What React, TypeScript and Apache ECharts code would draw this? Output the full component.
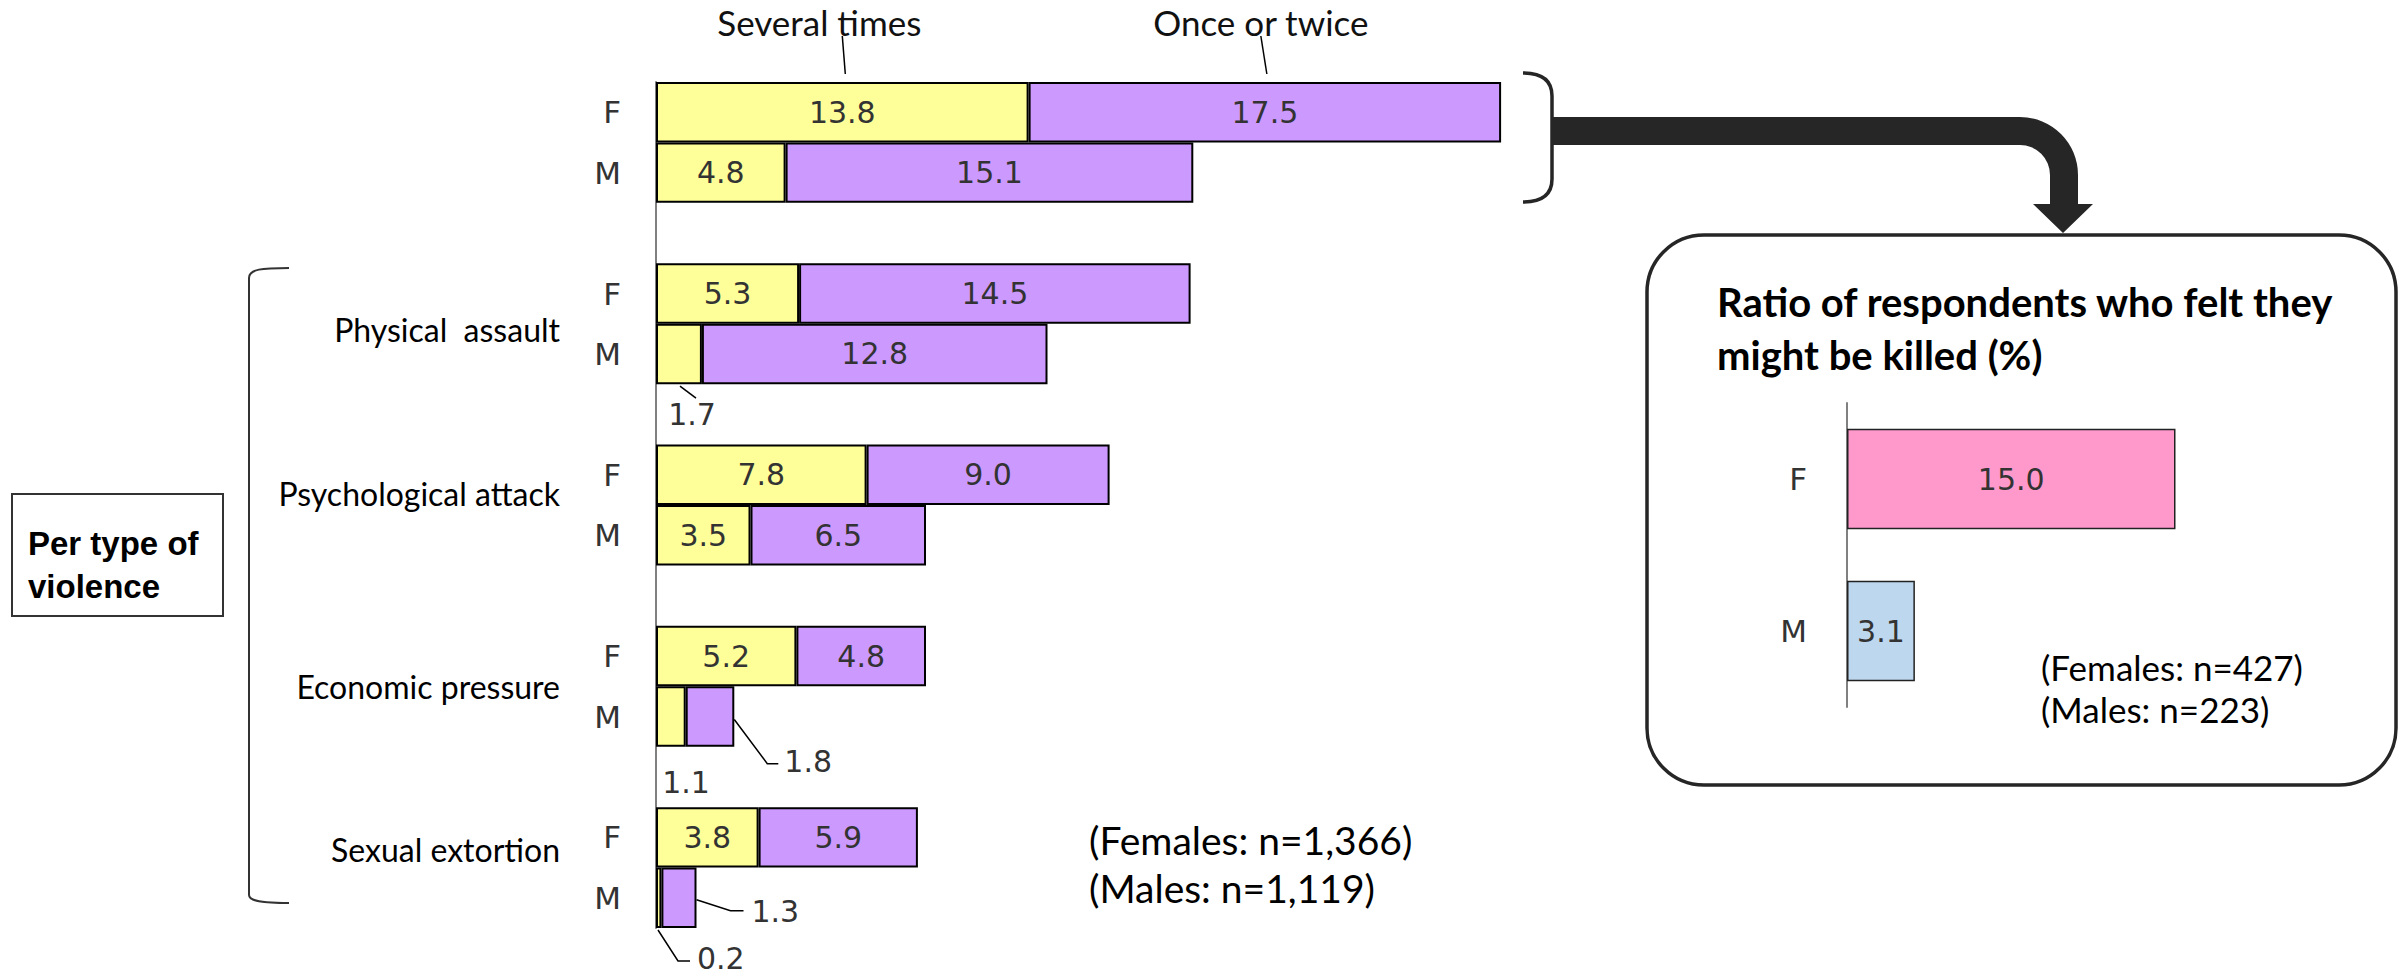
import React, { useEffect, useRef } from 'react';
import * as echarts from 'echarts';

// ---- data ----
const rowLabels = ['F', 'M', '', 'F', 'M', '', 'F', 'M', '', 'F', 'M', '', 'F', 'M'];
const violenceTypes = ['Physical  assault', 'Psychological attack', 'Economic pressure', 'Sexual extortion'];
const severalTimes: (number | null)[] = [13.8, 4.8, null, 5.3, 1.7, null, 7.8, 3.5, null, 5.2, 1.1, null, 3.8, 0.2];
const onceOrTwice: (number | null)[] = [17.5, 15.1, null, 14.5, 12.8, null, 9.0, 6.5, null, 4.8, 1.8, null, 5.9, 1.3];
const seriesNames = ['Several times', 'Once or twice'];
const sampleMain = ['(Females: n=1,366)', '(Males: n=1,119)'];

const killedLabels = ['F', 'M'];
const killedValues = [15.0, 3.1];
const killedTitle = ['Ratio of respondents who felt they', 'might be killed (%)'];
const sampleKilled = ['(Females: n=427)', '(Males: n=223)'];
const boxTitle = ['Per type of', 'violence'];

// ---- styling ----
const NUM_FONT = '"DejaVu Sans", Verdana, sans-serif';
const TXT_FONT = 'Lato, Calibri, sans-serif';
const BOLD_FONT = '"Liberation Sans", Arial, sans-serif';
const YELLOW = '#FFFF99';
const PURPLE = '#CC99FF';
const PINK = '#FF99CC';
const BLUE = '#BDD7EE';
const DARK = '#262626';

// small segments whose values are written outside the bar with a leader line
type XRef = 'x0' | 'x1';
type YRef = 'yc' | 'yb';
interface Callout {
  series: number;
  row: number;
  pts: [XRef, number, YRef, number][];
  label: [XRef, number, YRef, number];
  align: 'center' | 'left';
}
const CALLOUTS: Callout[] = [
  { series: 0, row: 4, pts: [['x0', 24, 'yb', 2], ['x0', 40, 'yb', 14]], label: ['x0', 36, 'yb', 30], align: 'center' },
  { series: 0, row: 10, pts: [], label: ['x0', 30, 'yb', 36], align: 'center' },
  { series: 1, row: 10, pts: [['x1', 0, 'yc', 3], ['x1', 33, 'yb', 17], ['x1', 44, 'yb', 17]], label: ['x1', 50, 'yb', 15], align: 'left' },
  { series: 0, row: 13, pts: [['x0', 2, 'yb', 2], ['x0', 22, 'yb', 33], ['x0', 34, 'yb', 33]], label: ['x0', 41, 'yb', 30], align: 'left' },
  { series: 1, row: 13, pts: [['x1', 0, 'yc', 2], ['x1', 34, 'yc', 13], ['x1', 47, 'yc', 13]], label: ['x1', 55, 'yc', 14], align: 'left' },
];
const isCallout = (s: number, r: number) => CALLOUTS.some((c) => c.series === s && c.row === r);

// rows of each type-of-violence group (F row) and vertical nudge of its caption
const groupRows = [3, 6, 9, 12];
const groupNudge = [6, -12, 0, -18];

// decorative shapes
echarts.graphic.registerShape(
  'flowArrow',
  echarts.graphic.extendPath(
    'M1552,117 L2020,117 A58,58 0 0 1 2078,175 L2078,204 L2093,204 L2063,233 L2033,204 L2050,204 L2050,175 A30,30 0 0 0 2020,145 L1552,145 Z',
    {}
  )
);
echarts.graphic.registerShape(
  'rightBrace',
  echarts.graphic.extendPath('M1523,73 C1542,73 1552,80 1552,96 L1552,179 C1552,195 1542,202 1523,202', {})
);
echarts.graphic.registerShape(
  'leftBrace',
  echarts.graphic.extendPath('M289,268 C262,268 249,269 249,278 L249,895 C249,901 262,903 289,903', {})
);

const fmt = (p: any) => Number(p.value).toFixed(1);

function barData(values: (number | null)[], s: number) {
  return values.map((v, r) =>
    v === null ? '-' : { value: v, label: { show: !isCallout(s, r) } }
  );
}

function baseOption(): echarts.EChartsOption {
  const barCommon = {
    type: 'bar' as const,
    stack: 'total',
    xAxisIndex: 0,
    yAxisIndex: 0,
    barCategoryGap: 0,
    itemStyle: { borderColor: '#000', borderWidth: 2 },
    label: {
      show: true,
      position: 'inside' as const,
      fontFamily: NUM_FONT,
      fontSize: 30,
      color: '#333',
      formatter: fmt,
    },
  };
  return {
    animation: false,
    backgroundColor: '#fff',
    grid: [
      { left: 656, top: 82, width: 1080, height: 846 },
      { left: 1847, top: 403, width: 438, height: 304 },
    ],
    xAxis: [
      { type: 'value', gridIndex: 0, min: 0, max: 40, show: false },
      { type: 'value', gridIndex: 1, min: 0, max: 20, show: false },
    ],
    yAxis: [
      {
        type: 'category',
        gridIndex: 0,
        data: rowLabels,
        inverse: true,
        axisLine: { show: true, lineStyle: { color: '#808080', width: 2 } },
        axisTick: { show: false },
        axisLabel: { fontFamily: NUM_FONT, fontSize: 31, color: '#333', margin: 35 },
      },
      {
        type: 'category',
        gridIndex: 1,
        data: killedLabels,
        inverse: true,
        axisLine: { show: true, lineStyle: { color: '#808080', width: 2 } },
        axisTick: { show: false },
        axisLabel: { fontFamily: NUM_FONT, fontSize: 31, color: '#333', margin: 40 },
      },
    ],
    series: [
      { ...barCommon, name: seriesNames[0], data: barData(severalTimes, 0), itemStyle: { ...barCommon.itemStyle, color: YELLOW } },
      { ...barCommon, name: seriesNames[1], data: barData(onceOrTwice, 1), itemStyle: { ...barCommon.itemStyle, color: PURPLE } },
      {
        type: 'bar',
        xAxisIndex: 1,
        yAxisIndex: 1,
        barCategoryGap: '34%',
        data: killedValues.map((v, i) => ({ value: v, itemStyle: { color: i === 0 ? PINK : BLUE } })),
        itemStyle: { borderColor: '#222', borderWidth: 1.5 },
        label: { show: true, position: 'inside', fontFamily: NUM_FONT, fontSize: 30, color: '#333', formatter: fmt },
      },
    ],
  };
}

function buildGraphics(chart: echarts.ECharts): any[] {
  const px = (x: number, row: number) => chart.convertToPixel({ gridIndex: 0 }, [x, row]) as number[];
  const half = (px(0, 1)[1] - px(0, 0)[1]) / 2;
  const g: any[] = [];
  const lineStyle = { stroke: '#000', lineWidth: 1.5, fill: 'none' };

  // series names above the top pair of bars, with pointer lines
  const segs = [
    [0, severalTimes[0] as number],
    [severalTimes[0] as number, (severalTimes[0] as number) + (onceOrTwice[0] as number)],
  ];
  const nameDx = [-23, -4];
  const leadTop = [0, -4];
  const leadBot = [3, 2];
  segs.forEach(([a, b], i) => {
    const cx = px((a + b) / 2, 0)[0];
    const top = px(0, 0)[1] - half;
    g.push({
      type: 'text',
      x: cx + nameDx[i],
      y: 22,
      style: { text: seriesNames[i], fontFamily: TXT_FONT, fontSize: 35, fill: '#111', align: 'center', verticalAlign: 'middle' },
    });
    g.push({
      type: 'line',
      shape: { x1: cx + leadTop[i], y1: 36, x2: cx + leadBot[i], y2: top - 8 },
      style: { stroke: '#000', lineWidth: 1.5 },
    });
  });

  // values written outside the small segments
  CALLOUTS.forEach((c) => {
    const base = c.series === 0 ? 0 : (severalTimes[c.row] as number);
    const val = c.series === 0 ? (severalTimes[c.row] as number) : (onceOrTwice[c.row] as number);
    const p0 = px(base, c.row);
    const p1 = px(base + val, c.row);
    const geo: Record<string, number> = { x0: p0[0], x1: p1[0], yc: p0[1], yb: p0[1] + half };
    if (c.pts.length) {
      g.push({
        type: 'polyline',
        shape: { points: c.pts.map(([xr, dx, yr, dy]) => [geo[xr] + dx, geo[yr] + dy]) },
        style: lineStyle,
      });
    }
    const [xr, dx, yr, dy] = c.label;
    g.push({
      type: 'text',
      x: geo[xr] + dx,
      y: geo[yr] + dy,
      style: { text: val.toFixed(1), fontFamily: NUM_FONT, fontSize: 30, fill: '#333', align: c.align, verticalAlign: 'middle' },
    });
  });

  // captions of the violence types
  violenceTypes.forEach((t, i) => {
    const yBoundary = px(0, groupRows[i])[1] + half;
    g.push({
      type: 'text',
      x: 560,
      y: yBoundary + groupNudge[i],
      style: { text: t, fontFamily: TXT_FONT, fontSize: 32, fill: '#000', align: 'right', verticalAlign: 'middle' },
    });
  });

  // bracket and box on the left
  g.push({ type: 'leftBrace', style: { stroke: '#333', lineWidth: 2, fill: null } });
  g.push({ type: 'rect', shape: { x: 12, y: 494, width: 211, height: 122 }, style: { stroke: '#333', lineWidth: 2, fill: '#fff' } });
  boxTitle.forEach((t, i) => {
    g.push({
      type: 'text',
      x: 28,
      y: 543 + i * 43,
      style: { text: t, fontFamily: BOLD_FONT, fontWeight: 'bold', fontSize: 33, fill: '#000', align: 'left', verticalAlign: 'middle' },
    });
  });

  // sample sizes of the main chart
  sampleMain.forEach((t, i) => {
    g.push({
      type: 'text',
      x: 1089,
      y: 840 + i * 48,
      style: { text: t, fontFamily: TXT_FONT, fontSize: 39, fill: '#000', align: 'left', verticalAlign: 'middle' },
    });
  });

  // brace and arrow leading to the inset
  g.push({ type: 'rightBrace', style: { stroke: DARK, lineWidth: 3.5, fill: null } });
  g.push({ type: 'flowArrow', style: { fill: DARK, stroke: null } });

  // inset frame, title and sample sizes
  g.push({
    type: 'rect',
    shape: { x: 1647, y: 235, width: 749, height: 550, r: 57 },
    style: { stroke: DARK, lineWidth: 3.5, fill: 'none' },
  });
  killedTitle.forEach((t, i) => {
    g.push({
      type: 'text',
      x: 1717,
      y: 302 + i * 53,
      style: { text: t, fontFamily: TXT_FONT, fontWeight: 'bold', fontSize: 40, fill: '#000', align: 'left', verticalAlign: 'middle' },
    });
  });
  sampleKilled.forEach((t, i) => {
    g.push({
      type: 'text',
      x: 2041,
      y: 667 + i * 42,
      style: { text: t, fontFamily: TXT_FONT, fontSize: 35, fill: '#000', align: 'left', verticalAlign: 'middle' },
    });
  });

  return g;
}

export default function App() {
  const ref = useRef<HTMLDivElement>(null);
  useEffect(() => {
    const el = ref.current;
    if (!el) return;
    const chart = echarts.init(el, undefined, { renderer: 'svg' });
    chart.setOption(baseOption());
    chart.setOption({ graphic: buildGraphics(chart) });
    return () => chart.dispose();
  }, []);
  return (
    <div
      ref={ref}
      style={{ position: 'absolute', left: 0, top: 0, width: 2408, height: 977, background: '#fff' }}
    />
  );
}
